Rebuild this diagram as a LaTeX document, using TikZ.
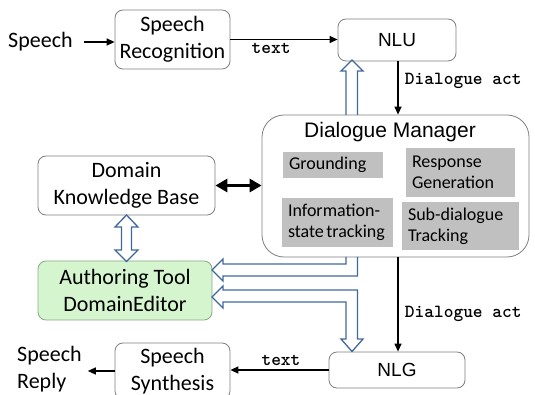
\documentclass[tikz,border=0pt]{standalone}
\usepackage{fontspec}
\setmainfont{Carlito}
\newfontfamily\arialf{Liberation Sans}
\usetikzlibrary{arrows.meta,calc}
\definecolor{boxline}{HTML}{7F7F7F}
\definecolor{greyfill}{HTML}{C0C0C0}
\definecolor{greenfill}{HTML}{D5F5CF}
\definecolor{greenline}{HTML}{8AAA86}
\definecolor{bluearrow}{HTML}{41689C}
\begin{document}
\begin{tikzpicture}[x=1pt,y=-1pt,
  box/.style={draw=boxline, line width=0.8pt, rounded corners=8pt, fill=white, align=center, inner sep=0pt, font=\fontsize{22}{26.5}\selectfont},
  gbox/.style={fill=greyfill, inner xsep=6pt, inner ysep=0pt, align=left, font=\fontsize{18}{21}\selectfont},
  conn/.style={line width=1.3pt, -{Triangle[length=8pt,width=7pt]}},
  lbl/.style={font=\ttfamily\bfseries\fontsize{18.5}{20}\selectfont},
  hollow/.style={draw=bluearrow, line width=1.3pt, line join=miter},
  arialtxt/.style={font=\arialf\fontsize{19}{22}\selectfont},
]
\useasboundingbox (0,0) rectangle (535,395);
\clip (0,0) rectangle (535,395);

% nodes
\node[anchor=west, inner sep=0pt, font=\fontsize{22}{26.5}\selectfont] (sp) at (8,42) {Speech};
\node[box, minimum width=115pt, minimum height=59pt] (sr) at (172.5,39.5) {Speech\\Recognition};
\node[box, arialtxt, minimum width=118pt, minimum height=42pt] (nlu) at (397,40) {NLU};
\node[box, rounded corners=22pt, minimum width=267pt, minimum height=142pt] (dm) at (395.5,186) {};
\node[font=\arialf\fontsize{21}{24}\selectfont] (dmt) at (390,132) {Dialogue Manager};
\node[gbox, text width=88pt, minimum height=26pt] (g1) at (333,165) {Grounding};
\node[gbox, text width=97pt, minimum height=49pt] (g2) at (460.5,172.5) {Response\\Generation};
\node[gbox, text width=99pt, minimum height=49pt] (g3) at (337.5,222.5) {Information-\\\mbox{state\hspace{2.5pt}tracking}};
\node[gbox, text width=105pt, minimum height=48pt] (g4) at (460.5,226) {Sub-dialogue\\Tracking};
\node[box, minimum width=177pt, minimum height=59pt] (dkb) at (126.5,185.5) {Domain\\Knowledge Base};
\node[box, fill=greenfill, draw=greenline, minimum width=174pt, minimum height=59pt] (at) at (125,290.5) {Authoring Tool\\DomainEditor};
\node[box, arialtxt, minimum width=136pt, minimum height=36pt] (nlg) at (397,370) {NLG};
\node[box, minimum width=115pt, minimum height=56pt] (ss) at (172.5,371) {Speech\\Synthesis};
\node[anchor=west, inner sep=0pt, align=left, font=\fontsize{22}{27}\selectfont] (rep) at (17,369) {Speech\\Reply};

% black connectors
\draw[conn] ([xshift=11pt]sp.east) -- (sp.east -| sr.west);
\draw[conn] (sr.east) -- (sr.east -| nlu.west) node[pos=0.38, below, lbl] {text};
\draw[conn] ([xshift=1pt]nlu.south) -- ([xshift=1pt]nlu.south |- dm.north) node[pos=0.36, right, xshift=3pt, lbl] {Dialogue act};
\draw[conn] ([xshift=1pt]nlg.north |- dm.south) -- ([xshift=1pt]nlg.north) node[pos=0.6, right, xshift=3pt, lbl] {Dialogue act};
\draw[conn] (nlg.west) -- (nlg.west -| ss.east) node[pos=0.485, above, lbl] {text};
\draw[conn] (ss.west) -- ([xshift=6pt]rep.east |- ss.west);
\draw[line width=3pt, {Triangle[length=12pt,width=13pt]}-{Triangle[length=12pt,width=13pt]}] (dkb.east) -- (dkb.east -| dm.west);

% hollow blue arrows
\draw[hollow] (346,115) -- (346,71) -- (341,71) -- (352,60) -- (363,71) -- (357.5,71) -- (357.5,115);
\draw[hollow] (121.5,227) -- (115,227) -- (126.5,215) -- (138,227) -- (131.5,227) -- (131.5,250) -- (138,250) -- (126.5,261.5) -- (115,250) -- (121.5,250) -- cycle;
\draw[hollow] (357.5,257) -- (357.5,276) -- (223,276) -- (223,281) -- (212,270) -- (223,259) -- (223,264) -- (346,264) -- (346,257);
\draw[hollow] (223,290) -- (357.5,290) -- (357.5,339) -- (363,339) -- (352,351.5) -- (341,339) -- (346,339) -- (346,302) -- (223,302) -- (223,308) -- (212,297) -- (223,286) -- cycle;
\end{tikzpicture}
\end{document}
